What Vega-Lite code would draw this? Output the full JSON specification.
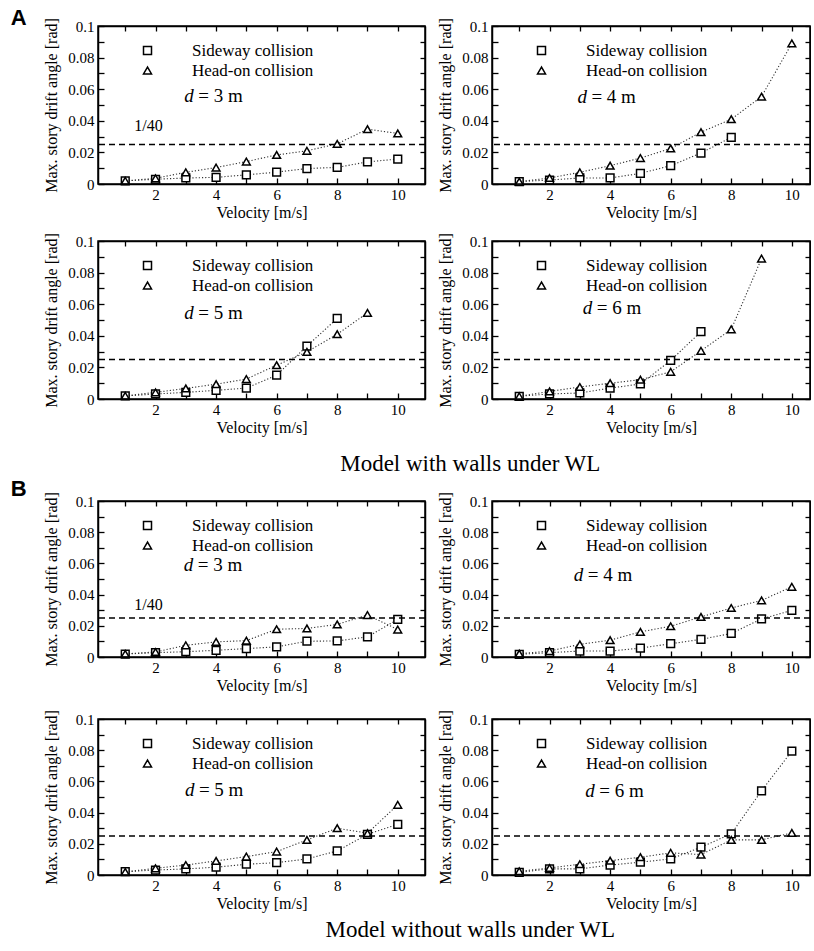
{
"$schema": "https://vega.github.io/schema/vega-lite/v6.json",
"background": "white",
"padding": {"left": 10, "top": 6, "right": 0, "bottom": 0},
"config": {
  "font": "Liberation Serif",
  "view": {"stroke": null},
  "axis": {"grid": false, "domainColor": "black", "tickColor": "black", "domainWidth": 1.5, "tickWidth": 1.3, "labelColor": "black", "titleColor": "black", "labelFontSize": 15, "titleFontSize": 16, "titleFontWeight": "normal", "labelFlush": false, "labelOverlap": false}
},
"datasets": {"drift": [
{"m":"with","d":3,"s":"Sideway collision","v":1,"y":0.002},{"m":"with","d":3,"s":"Sideway collision","v":2,"y":0.003},{"m":"with","d":3,"s":"Sideway collision","v":3,"y":0.0038},{"m":"with","d":3,"s":"Sideway collision","v":4,"y":0.0042},{"m":"with","d":3,"s":"Sideway collision","v":5,"y":0.0058},{"m":"with","d":3,"s":"Sideway collision","v":6,"y":0.0075},{"m":"with","d":3,"s":"Sideway collision","v":7,"y":0.0098},{"m":"with","d":3,"s":"Sideway collision","v":8,"y":0.0105},{"m":"with","d":3,"s":"Sideway collision","v":9,"y":0.014},{"m":"with","d":3,"s":"Sideway collision","v":10,"y":0.0158},
{"m":"with","d":3,"s":"Head-on collision","v":1,"y":0.002},{"m":"with","d":3,"s":"Head-on collision","v":2,"y":0.0036},{"m":"with","d":3,"s":"Head-on collision","v":3,"y":0.0074},{"m":"with","d":3,"s":"Head-on collision","v":4,"y":0.0104},{"m":"with","d":3,"s":"Head-on collision","v":5,"y":0.0142},{"m":"with","d":3,"s":"Head-on collision","v":6,"y":0.0184},{"m":"with","d":3,"s":"Head-on collision","v":7,"y":0.021},{"m":"with","d":3,"s":"Head-on collision","v":8,"y":0.0254},{"m":"with","d":3,"s":"Head-on collision","v":9,"y":0.0347},{"m":"with","d":3,"s":"Head-on collision","v":10,"y":0.032},
{"m":"with","d":4,"s":"Sideway collision","v":1,"y":0.0015},{"m":"with","d":4,"s":"Sideway collision","v":2,"y":0.0025},{"m":"with","d":4,"s":"Sideway collision","v":3,"y":0.0038},{"m":"with","d":4,"s":"Sideway collision","v":4,"y":0.0038},{"m":"with","d":4,"s":"Sideway collision","v":5,"y":0.0067},{"m":"with","d":4,"s":"Sideway collision","v":6,"y":0.0116},{"m":"with","d":4,"s":"Sideway collision","v":7,"y":0.0196},{"m":"with","d":4,"s":"Sideway collision","v":8,"y":0.0295},
{"m":"with","d":4,"s":"Head-on collision","v":1,"y":0.0015},{"m":"with","d":4,"s":"Head-on collision","v":2,"y":0.0038},{"m":"with","d":4,"s":"Head-on collision","v":3,"y":0.0074},{"m":"with","d":4,"s":"Head-on collision","v":4,"y":0.0116},{"m":"with","d":4,"s":"Head-on collision","v":5,"y":0.0164},{"m":"with","d":4,"s":"Head-on collision","v":6,"y":0.0225},{"m":"with","d":4,"s":"Head-on collision","v":7,"y":0.0328},{"m":"with","d":4,"s":"Head-on collision","v":8,"y":0.041},{"m":"with","d":4,"s":"Head-on collision","v":9,"y":0.0553},{"m":"with","d":4,"s":"Head-on collision","v":10,"y":0.089},
{"m":"with","d":5,"s":"Sideway collision","v":1,"y":0.0019},{"m":"with","d":5,"s":"Sideway collision","v":2,"y":0.0032},{"m":"with","d":5,"s":"Sideway collision","v":3,"y":0.0042},{"m":"with","d":5,"s":"Sideway collision","v":4,"y":0.0055},{"m":"with","d":5,"s":"Sideway collision","v":5,"y":0.0069},{"m":"with","d":5,"s":"Sideway collision","v":6,"y":0.0151},{"m":"with","d":5,"s":"Sideway collision","v":7,"y":0.0335},{"m":"with","d":5,"s":"Sideway collision","v":8,"y":0.051},
{"m":"with","d":5,"s":"Head-on collision","v":1,"y":0.002},{"m":"with","d":5,"s":"Head-on collision","v":2,"y":0.0042},{"m":"with","d":5,"s":"Head-on collision","v":3,"y":0.0067},{"m":"with","d":5,"s":"Head-on collision","v":4,"y":0.0094},{"m":"with","d":5,"s":"Head-on collision","v":5,"y":0.0126},{"m":"with","d":5,"s":"Head-on collision","v":6,"y":0.0214},{"m":"with","d":5,"s":"Head-on collision","v":7,"y":0.0298},{"m":"with","d":5,"s":"Head-on collision","v":8,"y":0.041},{"m":"with","d":5,"s":"Head-on collision","v":9,"y":0.0545},
{"m":"with","d":6,"s":"Sideway collision","v":1,"y":0.0017},{"m":"with","d":6,"s":"Sideway collision","v":2,"y":0.0032},{"m":"with","d":6,"s":"Sideway collision","v":3,"y":0.0038},{"m":"with","d":6,"s":"Sideway collision","v":4,"y":0.0069},{"m":"with","d":6,"s":"Sideway collision","v":5,"y":0.0095},{"m":"with","d":6,"s":"Sideway collision","v":6,"y":0.0244},{"m":"with","d":6,"s":"Sideway collision","v":7,"y":0.0426},
{"m":"with","d":6,"s":"Head-on collision","v":1,"y":0.0017},{"m":"with","d":6,"s":"Head-on collision","v":2,"y":0.0048},{"m":"with","d":6,"s":"Head-on collision","v":3,"y":0.0076},{"m":"with","d":6,"s":"Head-on collision","v":4,"y":0.01},{"m":"with","d":6,"s":"Head-on collision","v":5,"y":0.0122},{"m":"with","d":6,"s":"Head-on collision","v":6,"y":0.0172},{"m":"with","d":6,"s":"Head-on collision","v":7,"y":0.0305},{"m":"with","d":6,"s":"Head-on collision","v":8,"y":0.0441},{"m":"with","d":6,"s":"Head-on collision","v":9,"y":0.0889},
{"m":"without","d":3,"s":"Sideway collision","v":1,"y":0.0019},{"m":"without","d":3,"s":"Sideway collision","v":2,"y":0.0028},{"m":"without","d":3,"s":"Sideway collision","v":3,"y":0.0034},{"m":"without","d":3,"s":"Sideway collision","v":4,"y":0.0043},{"m":"without","d":3,"s":"Sideway collision","v":5,"y":0.0054},{"m":"without","d":3,"s":"Sideway collision","v":6,"y":0.0065},{"m":"without","d":3,"s":"Sideway collision","v":7,"y":0.0101},{"m":"without","d":3,"s":"Sideway collision","v":8,"y":0.0103},{"m":"without","d":3,"s":"Sideway collision","v":9,"y":0.0129},{"m":"without","d":3,"s":"Sideway collision","v":10,"y":0.0241},
{"m":"without","d":3,"s":"Head-on collision","v":1,"y":0.002},{"m":"without","d":3,"s":"Head-on collision","v":2,"y":0.0032},{"m":"without","d":3,"s":"Head-on collision","v":3,"y":0.0075},{"m":"without","d":3,"s":"Head-on collision","v":4,"y":0.0097},{"m":"without","d":3,"s":"Head-on collision","v":5,"y":0.0105},{"m":"without","d":3,"s":"Head-on collision","v":6,"y":0.0178},{"m":"without","d":3,"s":"Head-on collision","v":7,"y":0.0183},{"m":"without","d":3,"s":"Head-on collision","v":8,"y":0.0209},{"m":"without","d":3,"s":"Head-on collision","v":9,"y":0.0269},{"m":"without","d":3,"s":"Head-on collision","v":10,"y":0.0176},
{"m":"without","d":4,"s":"Sideway collision","v":1,"y":0.0017},{"m":"without","d":4,"s":"Sideway collision","v":2,"y":0.0028},{"m":"without","d":4,"s":"Sideway collision","v":3,"y":0.0038},{"m":"without","d":4,"s":"Sideway collision","v":4,"y":0.0038},{"m":"without","d":4,"s":"Sideway collision","v":5,"y":0.0057},{"m":"without","d":4,"s":"Sideway collision","v":6,"y":0.0085},{"m":"without","d":4,"s":"Sideway collision","v":7,"y":0.0113},{"m":"without","d":4,"s":"Sideway collision","v":8,"y":0.0151},{"m":"without","d":4,"s":"Sideway collision","v":9,"y":0.0244},{"m":"without","d":4,"s":"Sideway collision","v":10,"y":0.0299},
{"m":"without","d":4,"s":"Head-on collision","v":1,"y":0.0021},{"m":"without","d":4,"s":"Head-on collision","v":2,"y":0.0038},{"m":"without","d":4,"s":"Head-on collision","v":3,"y":0.0081},{"m":"without","d":4,"s":"Head-on collision","v":4,"y":0.0108},{"m":"without","d":4,"s":"Head-on collision","v":5,"y":0.0161},{"m":"without","d":4,"s":"Head-on collision","v":6,"y":0.0197},{"m":"without","d":4,"s":"Head-on collision","v":7,"y":0.0257},{"m":"without","d":4,"s":"Head-on collision","v":8,"y":0.0314},{"m":"without","d":4,"s":"Head-on collision","v":9,"y":0.0363},{"m":"without","d":4,"s":"Head-on collision","v":10,"y":0.045},
{"m":"without","d":5,"s":"Sideway collision","v":1,"y":0.0021},{"m":"without","d":5,"s":"Sideway collision","v":2,"y":0.0032},{"m":"without","d":5,"s":"Sideway collision","v":3,"y":0.0039},{"m":"without","d":5,"s":"Sideway collision","v":4,"y":0.005},{"m":"without","d":5,"s":"Sideway collision","v":5,"y":0.0069},{"m":"without","d":5,"s":"Sideway collision","v":6,"y":0.0079},{"m":"without","d":5,"s":"Sideway collision","v":7,"y":0.0103},{"m":"without","d":5,"s":"Sideway collision","v":8,"y":0.0154},{"m":"without","d":5,"s":"Sideway collision","v":9,"y":0.0261},{"m":"without","d":5,"s":"Sideway collision","v":10,"y":0.0325},
{"m":"without","d":5,"s":"Head-on collision","v":1,"y":0.002},{"m":"without","d":5,"s":"Head-on collision","v":2,"y":0.0043},{"m":"without","d":5,"s":"Head-on collision","v":3,"y":0.0064},{"m":"without","d":5,"s":"Head-on collision","v":4,"y":0.009},{"m":"without","d":5,"s":"Head-on collision","v":5,"y":0.0118},{"m":"without","d":5,"s":"Head-on collision","v":6,"y":0.015},{"m":"without","d":5,"s":"Head-on collision","v":7,"y":0.0225},{"m":"without","d":5,"s":"Head-on collision","v":8,"y":0.03},{"m":"without","d":5,"s":"Head-on collision","v":9,"y":0.0268},{"m":"without","d":5,"s":"Head-on collision","v":10,"y":0.045},
{"m":"without","d":6,"s":"Sideway collision","v":1,"y":0.0017},{"m":"without","d":6,"s":"Sideway collision","v":2,"y":0.0039},{"m":"without","d":6,"s":"Sideway collision","v":3,"y":0.0039},{"m":"without","d":6,"s":"Sideway collision","v":4,"y":0.0064},{"m":"without","d":6,"s":"Sideway collision","v":5,"y":0.0082},{"m":"without","d":6,"s":"Sideway collision","v":6,"y":0.0103},{"m":"without","d":6,"s":"Sideway collision","v":7,"y":0.0178},{"m":"without","d":6,"s":"Sideway collision","v":8,"y":0.0264},{"m":"without","d":6,"s":"Sideway collision","v":9,"y":0.054},{"m":"without","d":6,"s":"Sideway collision","v":10,"y":0.0794},
{"m":"without","d":6,"s":"Head-on collision","v":1,"y":0.0024},{"m":"without","d":6,"s":"Head-on collision","v":2,"y":0.0045},{"m":"without","d":6,"s":"Head-on collision","v":3,"y":0.0069},{"m":"without","d":6,"s":"Head-on collision","v":4,"y":0.0092},{"m":"without","d":6,"s":"Head-on collision","v":5,"y":0.0114},{"m":"without","d":6,"s":"Head-on collision","v":6,"y":0.0142},{"m":"without","d":6,"s":"Head-on collision","v":7,"y":0.0131},{"m":"without","d":6,"s":"Head-on collision","v":8,"y":0.0225},{"m":"without","d":6,"s":"Head-on collision","v":9,"y":0.0225},{"m":"without","d":6,"s":"Head-on collision","v":10,"y":0.027}
]},
"spacing": 1,
"resolve": {"scale": {"shape": "independent"}},
"vconcat": [
{"title": {"text": "A", "orient": "top", "anchor": "start", "font": "Liberation Sans", "fontWeight": "bold", "fontSize": 22, "color": "black", "offset": -12, "dx": -33},
 "resolve": {"scale": {"shape": "independent"}},
 "vconcat": [{"title": {"text": "Model with walls under WL", "orient": "bottom", "anchor": "middle", "font": "Liberation Serif", "fontWeight": "normal", "color": "black", "fontSize": 23, "offset": 18, "dx": 43},
  "spacing": 12,
  "resolve": {"scale": {"shape": "independent"}},
  "vconcat": [
   {"spacing": 11, "resolve": {"scale": {"shape": "independent"}}, "hconcat": [
    {"width": 327, "height": 158, "resolve": {"axis": {"x": "independent", "y": "independent"}}, "layer": [
     {"data": {"name": "drift"}, "transform": [{"filter": "datum.m == 'with' && datum.d == 3"}], "mark": {"type": "line", "strokeDash": [1.2, 2], "strokeWidth": 1.1, "color": "#333"}, "encoding": {"x": {"field": "v", "type": "quantitative", "scale": {"domain": [0.1, 10.9], "nice": false, "zero": false}, "axis": {"orient": "bottom", "values": [1, 2, 3, 4, 5, 6, 7, 8, 9, 10], "labelExpr": "datum.value % 2 == 0 ? datum.label : ''", "title": "Velocity [m/s]", "tickSize": -6, "labelPadding": 9, "titlePadding": 2, "domainColor": "black", "tickColor": "black", "domainWidth": 1.5, "tickWidth": 1.3}}, "y": {"field": "y", "type": "quantitative", "scale": {"domain": [0, 0.1], "nice": false, "zero": false}, "axis": {"orient": "left", "values": [0, 0.01, 0.02, 0.03, 0.04, 0.05, 0.06, 0.07, 0.08, 0.09, 0.1], "format": ".2~f", "labelExpr": "round(datum.value * 100) % 2 == 0 ? datum.label : ''", "title": "Max. story drift angle [rad]", "tickSize": -6, "labelPadding": 10, "titlePadding": 8, "domainColor": "black", "tickColor": "black", "domainWidth": 1.5, "tickWidth": 1.3}}, "detail": {"field": "s"}}},
     {"data": {"name": "drift"}, "transform": [{"filter": "datum.m == 'with' && datum.d == 3"}], "mark": {"type": "point", "filled": true, "fill": "white", "stroke": "black", "strokeWidth": 1.5, "size": 60, "opacity": 1}, "encoding": {"x": {"field": "v", "type": "quantitative", "scale": {"domain": [0.1, 10.9], "nice": false, "zero": false}, "axis": {"orient": "top", "values": [1, 2, 3, 4, 5, 6, 7, 8, 9, 10], "labels": false, "title": null, "tickSize": -5, "domainColor": "black", "tickColor": "black", "domainWidth": 1.5, "tickWidth": 1.3}}, "y": {"field": "y", "type": "quantitative", "scale": {"domain": [0, 0.1], "nice": false, "zero": false}, "axis": {"orient": "right", "values": [0, 0.01, 0.02, 0.03, 0.04, 0.05, 0.06, 0.07, 0.08, 0.09, 0.1], "labels": false, "title": null, "tickSize": -5, "domainColor": "black", "tickColor": "black", "domainWidth": 1.5, "tickWidth": 1.3}}, "shape": {"field": "s", "type": "nominal", "scale": {"domain": ["Sideway collision", "Head-on collision"], "range": ["square", "triangle-up"]}, "legend": {"orient": "none", "legendX": 41, "legendY": 16, "title": null, "padding": 0, "rowPadding": 2, "labelFontSize": 17, "labelOffset": 36, "symbolSize": 64, "symbolStrokeWidth": 1.5}}}},
     {"data": {"values": [{}]}, "mark": {"type": "rule", "strokeDash": [6, 4], "strokeWidth": 1.6, "color": "black"}, "encoding": {"y": {"datum": 0.025, "type": "quantitative", "axis": null}}},
     {"data": {"values": [{}]}, "mark": {"type": "rect", "filled": false, "stroke": "black", "strokeWidth": 1.5}, "encoding": {"x": {"datum": 0.1, "type": "quantitative", "axis": null}, "x2": {"datum": 10.9}, "y": {"datum": 0, "type": "quantitative", "axis": null}, "y2": {"datum": 0.1}}},
     {"data": {"values": [{}]}, "mark": {"type": "text", "text": "d", "color": "black", "fontStyle": "italic", "fontSize": 19, "align": "left", "baseline": "middle"}, "encoding": {"x": {"datum": 2.95, "type": "quantitative", "axis": null}, "y": {"datum": 0.0555, "type": "quantitative", "axis": null}}},
     {"data": {"values": [{}]}, "mark": {"type": "text", "text": "= 3 m", "color": "black", "dx": 14, "fontSize": 19, "align": "left", "baseline": "middle"}, "encoding": {"x": {"datum": 2.95, "type": "quantitative", "axis": null}, "y": {"datum": 0.0555, "type": "quantitative", "axis": null}}},
     {"data": {"values": [{}]}, "mark": {"type": "text", "text": "1/40", "color": "black", "fontSize": 16, "align": "left", "baseline": "middle"}, "encoding": {"x": {"datum": 1.3, "type": "quantitative", "axis": null}, "y": {"datum": 0.0365, "type": "quantitative", "axis": null}}}
    ]},
    {"width": 318, "height": 158, "resolve": {"axis": {"x": "independent", "y": "independent"}}, "layer": [
     {"data": {"name": "drift"}, "transform": [{"filter": "datum.m == 'with' && datum.d == 4"}], "mark": {"type": "line", "strokeDash": [1.2, 2], "strokeWidth": 1.1, "color": "#333"}, "encoding": {"x": {"field": "v", "type": "quantitative", "scale": {"domain": [0.1, 10.6], "nice": false, "zero": false}, "axis": {"orient": "bottom", "values": [1, 2, 3, 4, 5, 6, 7, 8, 9, 10], "labelExpr": "datum.value % 2 == 0 ? datum.label : ''", "title": "Velocity [m/s]", "tickSize": -6, "labelPadding": 9, "titlePadding": 2, "domainColor": "black", "tickColor": "black", "domainWidth": 1.5, "tickWidth": 1.3}}, "y": {"field": "y", "type": "quantitative", "scale": {"domain": [0, 0.1], "nice": false, "zero": false}, "axis": {"orient": "left", "values": [0, 0.01, 0.02, 0.03, 0.04, 0.05, 0.06, 0.07, 0.08, 0.09, 0.1], "format": ".2~f", "labelExpr": "round(datum.value * 100) % 2 == 0 ? datum.label : ''", "title": "Max. story drift angle [rad]", "tickSize": -6, "labelPadding": 10, "titlePadding": 8, "domainColor": "black", "tickColor": "black", "domainWidth": 1.5, "tickWidth": 1.3}}, "detail": {"field": "s"}}},
     {"data": {"name": "drift"}, "transform": [{"filter": "datum.m == 'with' && datum.d == 4"}], "mark": {"type": "point", "filled": true, "fill": "white", "stroke": "black", "strokeWidth": 1.5, "size": 60, "opacity": 1}, "encoding": {"x": {"field": "v", "type": "quantitative", "scale": {"domain": [0.1, 10.6], "nice": false, "zero": false}, "axis": {"orient": "top", "values": [1, 2, 3, 4, 5, 6, 7, 8, 9, 10], "labels": false, "title": null, "tickSize": -5, "domainColor": "black", "tickColor": "black", "domainWidth": 1.5, "tickWidth": 1.3}}, "y": {"field": "y", "type": "quantitative", "scale": {"domain": [0, 0.1], "nice": false, "zero": false}, "axis": {"orient": "right", "values": [0, 0.01, 0.02, 0.03, 0.04, 0.05, 0.06, 0.07, 0.08, 0.09, 0.1], "labels": false, "title": null, "tickSize": -5, "domainColor": "black", "tickColor": "black", "domainWidth": 1.5, "tickWidth": 1.3}}, "shape": {"field": "s", "type": "nominal", "scale": {"domain": ["Sideway collision", "Head-on collision"], "range": ["square", "triangle-up"]}, "legend": {"orient": "none", "legendX": 41, "legendY": 16, "title": null, "padding": 0, "rowPadding": 2, "labelFontSize": 17, "labelOffset": 36, "symbolSize": 64, "symbolStrokeWidth": 1.5}}}},
     {"data": {"values": [{}]}, "mark": {"type": "rule", "strokeDash": [6, 4], "strokeWidth": 1.6, "color": "black"}, "encoding": {"y": {"datum": 0.025, "type": "quantitative", "axis": null}}},
     {"data": {"values": [{}]}, "mark": {"type": "rect", "filled": false, "stroke": "black", "strokeWidth": 1.5}, "encoding": {"x": {"datum": 0.1, "type": "quantitative", "axis": null}, "x2": {"datum": 10.6}, "y": {"datum": 0, "type": "quantitative", "axis": null}, "y2": {"datum": 0.1}}},
     {"data": {"values": [{}]}, "mark": {"type": "text", "text": "d", "color": "black", "fontStyle": "italic", "fontSize": 19, "align": "left", "baseline": "middle"}, "encoding": {"x": {"datum": 2.92, "type": "quantitative", "axis": null}, "y": {"datum": 0.055, "type": "quantitative", "axis": null}}},
     {"data": {"values": [{}]}, "mark": {"type": "text", "text": "= 4 m", "color": "black", "dx": 14, "fontSize": 19, "align": "left", "baseline": "middle"}, "encoding": {"x": {"datum": 2.92, "type": "quantitative", "axis": null}, "y": {"datum": 0.055, "type": "quantitative", "axis": null}}}
    ]}
   ]},
   {"spacing": 11, "resolve": {"scale": {"shape": "independent"}}, "hconcat": [
    {"width": 327, "height": 158, "resolve": {"axis": {"x": "independent", "y": "independent"}}, "layer": [
     {"data": {"name": "drift"}, "transform": [{"filter": "datum.m == 'with' && datum.d == 5"}], "mark": {"type": "line", "strokeDash": [1.2, 2], "strokeWidth": 1.1, "color": "#333"}, "encoding": {"x": {"field": "v", "type": "quantitative", "scale": {"domain": [0.1, 10.9], "nice": false, "zero": false}, "axis": {"orient": "bottom", "values": [1, 2, 3, 4, 5, 6, 7, 8, 9, 10], "labelExpr": "datum.value % 2 == 0 ? datum.label : ''", "title": "Velocity [m/s]", "tickSize": -6, "labelPadding": 9, "titlePadding": 2, "domainColor": "black", "tickColor": "black", "domainWidth": 1.5, "tickWidth": 1.3}}, "y": {"field": "y", "type": "quantitative", "scale": {"domain": [0, 0.1], "nice": false, "zero": false}, "axis": {"orient": "left", "values": [0, 0.01, 0.02, 0.03, 0.04, 0.05, 0.06, 0.07, 0.08, 0.09, 0.1], "format": ".2~f", "labelExpr": "round(datum.value * 100) % 2 == 0 ? datum.label : ''", "title": "Max. story drift angle [rad]", "tickSize": -6, "labelPadding": 10, "titlePadding": 8, "domainColor": "black", "tickColor": "black", "domainWidth": 1.5, "tickWidth": 1.3}}, "detail": {"field": "s"}}},
     {"data": {"name": "drift"}, "transform": [{"filter": "datum.m == 'with' && datum.d == 5"}], "mark": {"type": "point", "filled": true, "fill": "white", "stroke": "black", "strokeWidth": 1.5, "size": 60, "opacity": 1}, "encoding": {"x": {"field": "v", "type": "quantitative", "scale": {"domain": [0.1, 10.9], "nice": false, "zero": false}, "axis": {"orient": "top", "values": [1, 2, 3, 4, 5, 6, 7, 8, 9, 10], "labels": false, "title": null, "tickSize": -5, "domainColor": "black", "tickColor": "black", "domainWidth": 1.5, "tickWidth": 1.3}}, "y": {"field": "y", "type": "quantitative", "scale": {"domain": [0, 0.1], "nice": false, "zero": false}, "axis": {"orient": "right", "values": [0, 0.01, 0.02, 0.03, 0.04, 0.05, 0.06, 0.07, 0.08, 0.09, 0.1], "labels": false, "title": null, "tickSize": -5, "domainColor": "black", "tickColor": "black", "domainWidth": 1.5, "tickWidth": 1.3}}, "shape": {"field": "s", "type": "nominal", "scale": {"domain": ["Sideway collision", "Head-on collision"], "range": ["square", "triangle-up"]}, "legend": {"orient": "none", "legendX": 41, "legendY": 16, "title": null, "padding": 0, "rowPadding": 2, "labelFontSize": 17, "labelOffset": 36, "symbolSize": 64, "symbolStrokeWidth": 1.5}}}},
     {"data": {"values": [{}]}, "mark": {"type": "rule", "strokeDash": [6, 4], "strokeWidth": 1.6, "color": "black"}, "encoding": {"y": {"datum": 0.025, "type": "quantitative", "axis": null}}},
     {"data": {"values": [{}]}, "mark": {"type": "rect", "filled": false, "stroke": "black", "strokeWidth": 1.5}, "encoding": {"x": {"datum": 0.1, "type": "quantitative", "axis": null}, "x2": {"datum": 10.9}, "y": {"datum": 0, "type": "quantitative", "axis": null}, "y2": {"datum": 0.1}}},
     {"data": {"values": [{}]}, "mark": {"type": "text", "text": "d", "color": "black", "fontStyle": "italic", "fontSize": 19, "align": "left", "baseline": "middle"}, "encoding": {"x": {"datum": 2.95, "type": "quantitative", "axis": null}, "y": {"datum": 0.0545, "type": "quantitative", "axis": null}}},
     {"data": {"values": [{}]}, "mark": {"type": "text", "text": "= 5 m", "color": "black", "dx": 14, "fontSize": 19, "align": "left", "baseline": "middle"}, "encoding": {"x": {"datum": 2.95, "type": "quantitative", "axis": null}, "y": {"datum": 0.0545, "type": "quantitative", "axis": null}}}
    ]},
    {"width": 318, "height": 158, "resolve": {"axis": {"x": "independent", "y": "independent"}}, "layer": [
     {"data": {"name": "drift"}, "transform": [{"filter": "datum.m == 'with' && datum.d == 6"}], "mark": {"type": "line", "strokeDash": [1.2, 2], "strokeWidth": 1.1, "color": "#333"}, "encoding": {"x": {"field": "v", "type": "quantitative", "scale": {"domain": [0.1, 10.6], "nice": false, "zero": false}, "axis": {"orient": "bottom", "values": [1, 2, 3, 4, 5, 6, 7, 8, 9, 10], "labelExpr": "datum.value % 2 == 0 ? datum.label : ''", "title": "Velocity [m/s]", "tickSize": -6, "labelPadding": 9, "titlePadding": 2, "domainColor": "black", "tickColor": "black", "domainWidth": 1.5, "tickWidth": 1.3}}, "y": {"field": "y", "type": "quantitative", "scale": {"domain": [0, 0.1], "nice": false, "zero": false}, "axis": {"orient": "left", "values": [0, 0.01, 0.02, 0.03, 0.04, 0.05, 0.06, 0.07, 0.08, 0.09, 0.1], "format": ".2~f", "labelExpr": "round(datum.value * 100) % 2 == 0 ? datum.label : ''", "title": "Max. story drift angle [rad]", "tickSize": -6, "labelPadding": 10, "titlePadding": 8, "domainColor": "black", "tickColor": "black", "domainWidth": 1.5, "tickWidth": 1.3}}, "detail": {"field": "s"}}},
     {"data": {"name": "drift"}, "transform": [{"filter": "datum.m == 'with' && datum.d == 6"}], "mark": {"type": "point", "filled": true, "fill": "white", "stroke": "black", "strokeWidth": 1.5, "size": 60, "opacity": 1}, "encoding": {"x": {"field": "v", "type": "quantitative", "scale": {"domain": [0.1, 10.6], "nice": false, "zero": false}, "axis": {"orient": "top", "values": [1, 2, 3, 4, 5, 6, 7, 8, 9, 10], "labels": false, "title": null, "tickSize": -5, "domainColor": "black", "tickColor": "black", "domainWidth": 1.5, "tickWidth": 1.3}}, "y": {"field": "y", "type": "quantitative", "scale": {"domain": [0, 0.1], "nice": false, "zero": false}, "axis": {"orient": "right", "values": [0, 0.01, 0.02, 0.03, 0.04, 0.05, 0.06, 0.07, 0.08, 0.09, 0.1], "labels": false, "title": null, "tickSize": -5, "domainColor": "black", "tickColor": "black", "domainWidth": 1.5, "tickWidth": 1.3}}, "shape": {"field": "s", "type": "nominal", "scale": {"domain": ["Sideway collision", "Head-on collision"], "range": ["square", "triangle-up"]}, "legend": {"orient": "none", "legendX": 41, "legendY": 16, "title": null, "padding": 0, "rowPadding": 2, "labelFontSize": 17, "labelOffset": 36, "symbolSize": 64, "symbolStrokeWidth": 1.5}}}},
     {"data": {"values": [{}]}, "mark": {"type": "rule", "strokeDash": [6, 4], "strokeWidth": 1.6, "color": "black"}, "encoding": {"y": {"datum": 0.025, "type": "quantitative", "axis": null}}},
     {"data": {"values": [{}]}, "mark": {"type": "rect", "filled": false, "stroke": "black", "strokeWidth": 1.5}, "encoding": {"x": {"datum": 0.1, "type": "quantitative", "axis": null}, "x2": {"datum": 10.6}, "y": {"datum": 0, "type": "quantitative", "axis": null}, "y2": {"datum": 0.1}}},
     {"data": {"values": [{}]}, "mark": {"type": "text", "text": "d", "color": "black", "fontStyle": "italic", "fontSize": 19, "align": "left", "baseline": "middle"}, "encoding": {"x": {"datum": 3.1, "type": "quantitative", "axis": null}, "y": {"datum": 0.0573, "type": "quantitative", "axis": null}}},
     {"data": {"values": [{}]}, "mark": {"type": "text", "text": "= 6 m", "color": "black", "dx": 14, "fontSize": 19, "align": "left", "baseline": "middle"}, "encoding": {"x": {"datum": 3.1, "type": "quantitative", "axis": null}, "y": {"datum": 0.0573, "type": "quantitative", "axis": null}}}
    ]}
   ]}
  ]}]},
{"title": {"text": "B", "orient": "top", "anchor": "start", "font": "Liberation Sans", "fontWeight": "bold", "fontSize": 22, "color": "black", "offset": -9, "dx": -33},
 "resolve": {"scale": {"shape": "independent"}},
 "vconcat": [{"title": {"text": "Model without walls under WL", "orient": "bottom", "anchor": "middle", "font": "Liberation Serif", "fontWeight": "normal", "color": "black", "fontSize": 23, "offset": 8, "dx": 43},
  "spacing": 16,
  "resolve": {"scale": {"shape": "independent"}},
  "vconcat": [
   {"spacing": 11, "resolve": {"scale": {"shape": "independent"}}, "hconcat": [
    {"width": 327, "height": 156, "resolve": {"axis": {"x": "independent", "y": "independent"}}, "layer": [
     {"data": {"name": "drift"}, "transform": [{"filter": "datum.m == 'without' && datum.d == 3"}], "mark": {"type": "line", "strokeDash": [1.2, 2], "strokeWidth": 1.1, "color": "#333"}, "encoding": {"x": {"field": "v", "type": "quantitative", "scale": {"domain": [0.1, 10.9], "nice": false, "zero": false}, "axis": {"orient": "bottom", "values": [1, 2, 3, 4, 5, 6, 7, 8, 9, 10], "labelExpr": "datum.value % 2 == 0 ? datum.label : ''", "title": "Velocity [m/s]", "tickSize": -6, "labelPadding": 9, "titlePadding": 2, "domainColor": "black", "tickColor": "black", "domainWidth": 1.5, "tickWidth": 1.3}}, "y": {"field": "y", "type": "quantitative", "scale": {"domain": [0, 0.1], "nice": false, "zero": false}, "axis": {"orient": "left", "values": [0, 0.01, 0.02, 0.03, 0.04, 0.05, 0.06, 0.07, 0.08, 0.09, 0.1], "format": ".2~f", "labelExpr": "round(datum.value * 100) % 2 == 0 ? datum.label : ''", "title": "Max. story drift angle [rad]", "tickSize": -6, "labelPadding": 10, "titlePadding": 8, "domainColor": "black", "tickColor": "black", "domainWidth": 1.5, "tickWidth": 1.3}}, "detail": {"field": "s"}}},
     {"data": {"name": "drift"}, "transform": [{"filter": "datum.m == 'without' && datum.d == 3"}], "mark": {"type": "point", "filled": true, "fill": "white", "stroke": "black", "strokeWidth": 1.5, "size": 60, "opacity": 1}, "encoding": {"x": {"field": "v", "type": "quantitative", "scale": {"domain": [0.1, 10.9], "nice": false, "zero": false}, "axis": {"orient": "top", "values": [1, 2, 3, 4, 5, 6, 7, 8, 9, 10], "labels": false, "title": null, "tickSize": -5, "domainColor": "black", "tickColor": "black", "domainWidth": 1.5, "tickWidth": 1.3}}, "y": {"field": "y", "type": "quantitative", "scale": {"domain": [0, 0.1], "nice": false, "zero": false}, "axis": {"orient": "right", "values": [0, 0.01, 0.02, 0.03, 0.04, 0.05, 0.06, 0.07, 0.08, 0.09, 0.1], "labels": false, "title": null, "tickSize": -5, "domainColor": "black", "tickColor": "black", "domainWidth": 1.5, "tickWidth": 1.3}}, "shape": {"field": "s", "type": "nominal", "scale": {"domain": ["Sideway collision", "Head-on collision"], "range": ["square", "triangle-up"]}, "legend": {"orient": "none", "legendX": 41, "legendY": 16, "title": null, "padding": 0, "rowPadding": 2, "labelFontSize": 17, "labelOffset": 36, "symbolSize": 64, "symbolStrokeWidth": 1.5}}}},
     {"data": {"values": [{}]}, "mark": {"type": "rule", "strokeDash": [6, 4], "strokeWidth": 1.6, "color": "black"}, "encoding": {"y": {"datum": 0.025, "type": "quantitative", "axis": null}}},
     {"data": {"values": [{}]}, "mark": {"type": "rect", "filled": false, "stroke": "black", "strokeWidth": 1.5}, "encoding": {"x": {"datum": 0.1, "type": "quantitative", "axis": null}, "x2": {"datum": 10.9}, "y": {"datum": 0, "type": "quantitative", "axis": null}, "y2": {"datum": 0.1}}},
     {"data": {"values": [{}]}, "mark": {"type": "text", "text": "d", "color": "black", "fontStyle": "italic", "fontSize": 19, "align": "left", "baseline": "middle"}, "encoding": {"x": {"datum": 2.93, "type": "quantitative", "axis": null}, "y": {"datum": 0.059, "type": "quantitative", "axis": null}}},
     {"data": {"values": [{}]}, "mark": {"type": "text", "text": "= 3 m", "color": "black", "dx": 14, "fontSize": 19, "align": "left", "baseline": "middle"}, "encoding": {"x": {"datum": 2.93, "type": "quantitative", "axis": null}, "y": {"datum": 0.059, "type": "quantitative", "axis": null}}},
     {"data": {"values": [{}]}, "mark": {"type": "text", "text": "1/40", "color": "black", "fontSize": 16, "align": "left", "baseline": "middle"}, "encoding": {"x": {"datum": 1.3, "type": "quantitative", "axis": null}, "y": {"datum": 0.0335, "type": "quantitative", "axis": null}}}
    ]},
    {"width": 318, "height": 156, "resolve": {"axis": {"x": "independent", "y": "independent"}}, "layer": [
     {"data": {"name": "drift"}, "transform": [{"filter": "datum.m == 'without' && datum.d == 4"}], "mark": {"type": "line", "strokeDash": [1.2, 2], "strokeWidth": 1.1, "color": "#333"}, "encoding": {"x": {"field": "v", "type": "quantitative", "scale": {"domain": [0.1, 10.6], "nice": false, "zero": false}, "axis": {"orient": "bottom", "values": [1, 2, 3, 4, 5, 6, 7, 8, 9, 10], "labelExpr": "datum.value % 2 == 0 ? datum.label : ''", "title": "Velocity [m/s]", "tickSize": -6, "labelPadding": 9, "titlePadding": 2, "domainColor": "black", "tickColor": "black", "domainWidth": 1.5, "tickWidth": 1.3}}, "y": {"field": "y", "type": "quantitative", "scale": {"domain": [0, 0.1], "nice": false, "zero": false}, "axis": {"orient": "left", "values": [0, 0.01, 0.02, 0.03, 0.04, 0.05, 0.06, 0.07, 0.08, 0.09, 0.1], "format": ".2~f", "labelExpr": "round(datum.value * 100) % 2 == 0 ? datum.label : ''", "title": "Max. story drift angle [rad]", "tickSize": -6, "labelPadding": 10, "titlePadding": 8, "domainColor": "black", "tickColor": "black", "domainWidth": 1.5, "tickWidth": 1.3}}, "detail": {"field": "s"}}},
     {"data": {"name": "drift"}, "transform": [{"filter": "datum.m == 'without' && datum.d == 4"}], "mark": {"type": "point", "filled": true, "fill": "white", "stroke": "black", "strokeWidth": 1.5, "size": 60, "opacity": 1}, "encoding": {"x": {"field": "v", "type": "quantitative", "scale": {"domain": [0.1, 10.6], "nice": false, "zero": false}, "axis": {"orient": "top", "values": [1, 2, 3, 4, 5, 6, 7, 8, 9, 10], "labels": false, "title": null, "tickSize": -5, "domainColor": "black", "tickColor": "black", "domainWidth": 1.5, "tickWidth": 1.3}}, "y": {"field": "y", "type": "quantitative", "scale": {"domain": [0, 0.1], "nice": false, "zero": false}, "axis": {"orient": "right", "values": [0, 0.01, 0.02, 0.03, 0.04, 0.05, 0.06, 0.07, 0.08, 0.09, 0.1], "labels": false, "title": null, "tickSize": -5, "domainColor": "black", "tickColor": "black", "domainWidth": 1.5, "tickWidth": 1.3}}, "shape": {"field": "s", "type": "nominal", "scale": {"domain": ["Sideway collision", "Head-on collision"], "range": ["square", "triangle-up"]}, "legend": {"orient": "none", "legendX": 41, "legendY": 16, "title": null, "padding": 0, "rowPadding": 2, "labelFontSize": 17, "labelOffset": 36, "symbolSize": 64, "symbolStrokeWidth": 1.5}}}},
     {"data": {"values": [{}]}, "mark": {"type": "rule", "strokeDash": [6, 4], "strokeWidth": 1.6, "color": "black"}, "encoding": {"y": {"datum": 0.025, "type": "quantitative", "axis": null}}},
     {"data": {"values": [{}]}, "mark": {"type": "rect", "filled": false, "stroke": "black", "strokeWidth": 1.5}, "encoding": {"x": {"datum": 0.1, "type": "quantitative", "axis": null}, "x2": {"datum": 10.6}, "y": {"datum": 0, "type": "quantitative", "axis": null}, "y2": {"datum": 0.1}}},
     {"data": {"values": [{}]}, "mark": {"type": "text", "text": "d", "color": "black", "fontStyle": "italic", "fontSize": 19, "align": "left", "baseline": "middle"}, "encoding": {"x": {"datum": 2.8, "type": "quantitative", "axis": null}, "y": {"datum": 0.0527, "type": "quantitative", "axis": null}}},
     {"data": {"values": [{}]}, "mark": {"type": "text", "text": "= 4 m", "color": "black", "dx": 14, "fontSize": 19, "align": "left", "baseline": "middle"}, "encoding": {"x": {"datum": 2.8, "type": "quantitative", "axis": null}, "y": {"datum": 0.0527, "type": "quantitative", "axis": null}}}
    ]}
   ]},
   {"spacing": 11, "resolve": {"scale": {"shape": "independent"}}, "hconcat": [
    {"width": 327, "height": 156, "resolve": {"axis": {"x": "independent", "y": "independent"}}, "layer": [
     {"data": {"name": "drift"}, "transform": [{"filter": "datum.m == 'without' && datum.d == 5"}], "mark": {"type": "line", "strokeDash": [1.2, 2], "strokeWidth": 1.1, "color": "#333"}, "encoding": {"x": {"field": "v", "type": "quantitative", "scale": {"domain": [0.1, 10.9], "nice": false, "zero": false}, "axis": {"orient": "bottom", "values": [1, 2, 3, 4, 5, 6, 7, 8, 9, 10], "labelExpr": "datum.value % 2 == 0 ? datum.label : ''", "title": "Velocity [m/s]", "tickSize": -6, "labelPadding": 9, "titlePadding": 2, "domainColor": "black", "tickColor": "black", "domainWidth": 1.5, "tickWidth": 1.3}}, "y": {"field": "y", "type": "quantitative", "scale": {"domain": [0, 0.1], "nice": false, "zero": false}, "axis": {"orient": "left", "values": [0, 0.01, 0.02, 0.03, 0.04, 0.05, 0.06, 0.07, 0.08, 0.09, 0.1], "format": ".2~f", "labelExpr": "round(datum.value * 100) % 2 == 0 ? datum.label : ''", "title": "Max. story drift angle [rad]", "tickSize": -6, "labelPadding": 10, "titlePadding": 8, "domainColor": "black", "tickColor": "black", "domainWidth": 1.5, "tickWidth": 1.3}}, "detail": {"field": "s"}}},
     {"data": {"name": "drift"}, "transform": [{"filter": "datum.m == 'without' && datum.d == 5"}], "mark": {"type": "point", "filled": true, "fill": "white", "stroke": "black", "strokeWidth": 1.5, "size": 60, "opacity": 1}, "encoding": {"x": {"field": "v", "type": "quantitative", "scale": {"domain": [0.1, 10.9], "nice": false, "zero": false}, "axis": {"orient": "top", "values": [1, 2, 3, 4, 5, 6, 7, 8, 9, 10], "labels": false, "title": null, "tickSize": -5, "domainColor": "black", "tickColor": "black", "domainWidth": 1.5, "tickWidth": 1.3}}, "y": {"field": "y", "type": "quantitative", "scale": {"domain": [0, 0.1], "nice": false, "zero": false}, "axis": {"orient": "right", "values": [0, 0.01, 0.02, 0.03, 0.04, 0.05, 0.06, 0.07, 0.08, 0.09, 0.1], "labels": false, "title": null, "tickSize": -5, "domainColor": "black", "tickColor": "black", "domainWidth": 1.5, "tickWidth": 1.3}}, "shape": {"field": "s", "type": "nominal", "scale": {"domain": ["Sideway collision", "Head-on collision"], "range": ["square", "triangle-up"]}, "legend": {"orient": "none", "legendX": 41, "legendY": 16, "title": null, "padding": 0, "rowPadding": 2, "labelFontSize": 17, "labelOffset": 36, "symbolSize": 64, "symbolStrokeWidth": 1.5}}}},
     {"data": {"values": [{}]}, "mark": {"type": "rule", "strokeDash": [6, 4], "strokeWidth": 1.6, "color": "black"}, "encoding": {"y": {"datum": 0.025, "type": "quantitative", "axis": null}}},
     {"data": {"values": [{}]}, "mark": {"type": "rect", "filled": false, "stroke": "black", "strokeWidth": 1.5}, "encoding": {"x": {"datum": 0.1, "type": "quantitative", "axis": null}, "x2": {"datum": 10.9}, "y": {"datum": 0, "type": "quantitative", "axis": null}, "y2": {"datum": 0.1}}},
     {"data": {"values": [{}]}, "mark": {"type": "text", "text": "d", "color": "black", "fontStyle": "italic", "fontSize": 19, "align": "left", "baseline": "middle"}, "encoding": {"x": {"datum": 2.97, "type": "quantitative", "axis": null}, "y": {"datum": 0.0546, "type": "quantitative", "axis": null}}},
     {"data": {"values": [{}]}, "mark": {"type": "text", "text": "= 5 m", "color": "black", "dx": 14, "fontSize": 19, "align": "left", "baseline": "middle"}, "encoding": {"x": {"datum": 2.97, "type": "quantitative", "axis": null}, "y": {"datum": 0.0546, "type": "quantitative", "axis": null}}}
    ]},
    {"width": 318, "height": 156, "resolve": {"axis": {"x": "independent", "y": "independent"}}, "layer": [
     {"data": {"name": "drift"}, "transform": [{"filter": "datum.m == 'without' && datum.d == 6"}], "mark": {"type": "line", "strokeDash": [1.2, 2], "strokeWidth": 1.1, "color": "#333"}, "encoding": {"x": {"field": "v", "type": "quantitative", "scale": {"domain": [0.1, 10.6], "nice": false, "zero": false}, "axis": {"orient": "bottom", "values": [1, 2, 3, 4, 5, 6, 7, 8, 9, 10], "labelExpr": "datum.value % 2 == 0 ? datum.label : ''", "title": "Velocity [m/s]", "tickSize": -6, "labelPadding": 9, "titlePadding": 2, "domainColor": "black", "tickColor": "black", "domainWidth": 1.5, "tickWidth": 1.3}}, "y": {"field": "y", "type": "quantitative", "scale": {"domain": [0, 0.1], "nice": false, "zero": false}, "axis": {"orient": "left", "values": [0, 0.01, 0.02, 0.03, 0.04, 0.05, 0.06, 0.07, 0.08, 0.09, 0.1], "format": ".2~f", "labelExpr": "round(datum.value * 100) % 2 == 0 ? datum.label : ''", "title": "Max. story drift angle [rad]", "tickSize": -6, "labelPadding": 10, "titlePadding": 8, "domainColor": "black", "tickColor": "black", "domainWidth": 1.5, "tickWidth": 1.3}}, "detail": {"field": "s"}}},
     {"data": {"name": "drift"}, "transform": [{"filter": "datum.m == 'without' && datum.d == 6"}], "mark": {"type": "point", "filled": true, "fill": "white", "stroke": "black", "strokeWidth": 1.5, "size": 60, "opacity": 1}, "encoding": {"x": {"field": "v", "type": "quantitative", "scale": {"domain": [0.1, 10.6], "nice": false, "zero": false}, "axis": {"orient": "top", "values": [1, 2, 3, 4, 5, 6, 7, 8, 9, 10], "labels": false, "title": null, "tickSize": -5, "domainColor": "black", "tickColor": "black", "domainWidth": 1.5, "tickWidth": 1.3}}, "y": {"field": "y", "type": "quantitative", "scale": {"domain": [0, 0.1], "nice": false, "zero": false}, "axis": {"orient": "right", "values": [0, 0.01, 0.02, 0.03, 0.04, 0.05, 0.06, 0.07, 0.08, 0.09, 0.1], "labels": false, "title": null, "tickSize": -5, "domainColor": "black", "tickColor": "black", "domainWidth": 1.5, "tickWidth": 1.3}}, "shape": {"field": "s", "type": "nominal", "scale": {"domain": ["Sideway collision", "Head-on collision"], "range": ["square", "triangle-up"]}, "legend": {"orient": "none", "legendX": 41, "legendY": 16, "title": null, "padding": 0, "rowPadding": 2, "labelFontSize": 17, "labelOffset": 36, "symbolSize": 64, "symbolStrokeWidth": 1.5}}}},
     {"data": {"values": [{}]}, "mark": {"type": "rule", "strokeDash": [6, 4], "strokeWidth": 1.6, "color": "black"}, "encoding": {"y": {"datum": 0.025, "type": "quantitative", "axis": null}}},
     {"data": {"values": [{}]}, "mark": {"type": "rect", "filled": false, "stroke": "black", "strokeWidth": 1.5}, "encoding": {"x": {"datum": 0.1, "type": "quantitative", "axis": null}, "x2": {"datum": 10.6}, "y": {"datum": 0, "type": "quantitative", "axis": null}, "y2": {"datum": 0.1}}},
     {"data": {"values": [{}]}, "mark": {"type": "text", "text": "d", "color": "black", "fontStyle": "italic", "fontSize": 19, "align": "left", "baseline": "middle"}, "encoding": {"x": {"datum": 3.18, "type": "quantitative", "axis": null}, "y": {"datum": 0.054, "type": "quantitative", "axis": null}}},
     {"data": {"values": [{}]}, "mark": {"type": "text", "text": "= 6 m", "color": "black", "dx": 14, "fontSize": 19, "align": "left", "baseline": "middle"}, "encoding": {"x": {"datum": 3.18, "type": "quantitative", "axis": null}, "y": {"datum": 0.054, "type": "quantitative", "axis": null}}}
    ]}
   ]}
  ]}]}
]
}
